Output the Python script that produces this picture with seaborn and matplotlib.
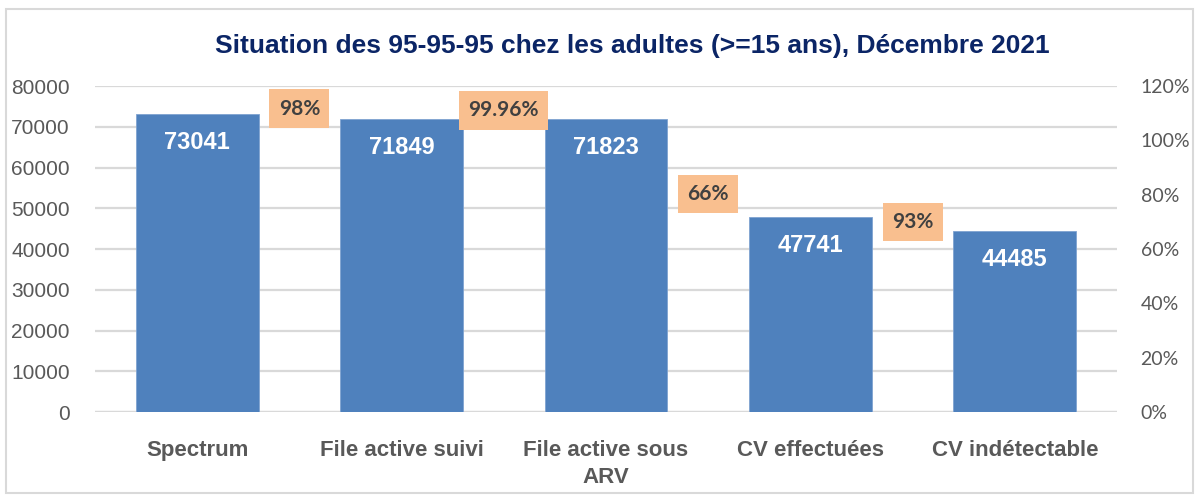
import pandas as pd
import matplotlib
matplotlib.use('Agg')
import matplotlib.pyplot as plt
from matplotlib.patches import Rectangle
from matplotlib.ticker import PercentFormatter
import seaborn as sns

# data
categories = ['Spectrum', 'File active suivi', 'File active sous\nARV', 'CV effectuées', 'CV indétectable']
values = [73041, 71849, 71823, 47741, 44485]
pct_labels = ['98%', '99.96%', '66%', '93%']
# where the orange boxes sit (they are placed by hand in the original)
pct_label_y = [74400, 74000, 53500, 46600]

df = pd.DataFrame({'categorie': categories, 'effectif': values})

sns.set_theme(style='white')
plt.rcParams['font.family'] = ['Liberation Sans', 'DejaVu Sans']

fig = plt.figure(figsize=(11.99, 4.96), dpi=100)
ax = fig.add_axes([95 / 1199, 1 - 412 / 496, (1117 - 95) / 1199, (412 - 86) / 496])

sns.barplot(data=df, x='categorie', y='effectif', color='#4F81BD', saturation=1,
            width=0.6, edgecolor='#7FA3D1', linewidth=0.6, ax=ax, zorder=3)

ax.set_ylim(0, 80000)
ax.set_xlim(-0.5, len(categories) - 0.5)
ax.set_yticks(range(0, 80001, 10000))
ax.set_xlabel('')
ax.set_ylabel('')
ax.grid(axis='y', color='#D9D9D9', linewidth=1.6, zorder=0)
ax.set_axisbelow(True)
for s in ax.spines.values():
    s.set_visible(False)
ax.axhline(0, color='#D9D9D9', linewidth=1.6, zorder=1)
ax.tick_params(axis='y', length=0, pad=18, labelsize=15, labelcolor='#595959')
ax.tick_params(axis='x', length=0, pad=20, labelsize=16, labelcolor='#595959')
for lab in ax.get_xticklabels():
    lab.set_fontweight('bold')
    lab.set_linespacing(1.4)

# value labels inside the bars
for i, v in enumerate(values):
    ax.text(i, v - 7000, str(v), ha='center', va='center', color='white',
            fontsize=17, fontweight='bold', zorder=5)

# ratio boxes between bars
for i, (lab, y) in enumerate(zip(pct_labels, pct_label_y)):
    ax.text(i + 0.5, y, lab, ha='center', va='center', color='#404040',
            fontsize=15, fontweight='bold', family=['Lato', 'DejaVu Sans'], zorder=6,
            bbox=dict(boxstyle='square,pad=0.45', fc='#F9BF8F', ec='none'))

# secondary axis in percent
ax2 = ax.twinx()
ax2.set_ylim(0, 1.2)
ax2.set_yticks([0, 0.2, 0.4, 0.6, 0.8, 1.0, 1.2])
ax2.yaxis.set_major_formatter(PercentFormatter(xmax=1, decimals=0))
ax2.grid(False)
for s in ax2.spines.values():
    s.set_visible(False)
ax2.tick_params(axis='y', length=0, pad=17, labelsize=14, labelcolor='#595959')
for lab in ax2.get_yticklabels():
    lab.set_family(['Lato', 'DejaVu Sans'])

fig.text(632 / 1199, 1 - 46 / 496, 'Situation des 95-95-95 chez les adultes (>=15 ans), Décembre 2021',
         ha='center', va='center', fontsize=19, fontweight='bold', color='#0B2566')

# chart border
fig.patches.append(Rectangle((6 / 1199, 1 - 493 / 496), 1187 / 1199, 484 / 496,
                             transform=fig.transFigure, fill=False, ec='#D9D9D9', lw=1.5))

fig.savefig('out.png', dpi=100)
